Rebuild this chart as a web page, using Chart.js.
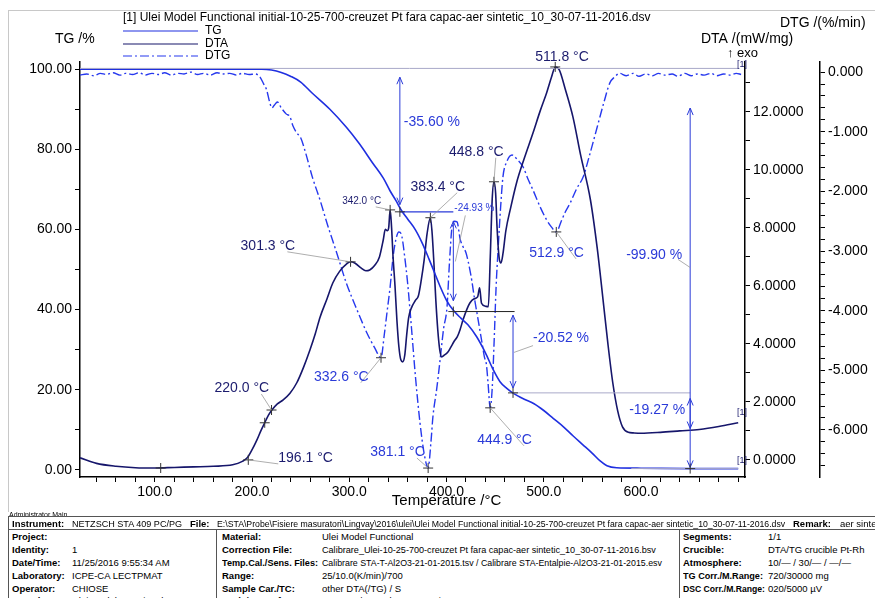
<!DOCTYPE html>
<html lang="en">
<head>
<meta charset="UTF-8">
<title>STA Ulei Model Functional</title>
<script src="https://cdn.jsdelivr.net/npm/chart.js"></script>
<style>
    body { margin: 0; background: #ffffff; font-family: Arial, "Liberation Sans", sans-serif; }
    #wrap { position: relative; width: 875px; height: 598px; overflow: hidden; }
    #chart { position: absolute; left: 0; top: 0; }
    .t { position: absolute; font-size: 9.5px; color: #000; white-space: nowrap; line-height: 12px; transform-origin: left center; }
    .b { font-weight: bold; }
    .hl { position: absolute; height: 0; border-top: 1px solid #555; }
    .vl { position: absolute; width: 0; border-left: 1px solid #555; }
</style>
</head>
<body>
<div id="wrap">
    <canvas id="chart" width="875" height="512"></canvas>
    <div id="info"></div>
</div>
<script>
// TG curve (mass %)
const tgTemps = [23, 100, 150, 210, 220, 230, 240, 250, 262, 280, 297, 310, 324, 335, 342, 348, 354, 360, 368, 375, 382, 388, 393, 400, 407, 415, 422, 431, 440, 448, 455, 462, 468, 480, 490, 500, 510, 520, 530, 540, 550, 558, 565, 575, 600, 650, 700];
const tgValues = [100, 100, 100, 100, 99.8, 99.2, 98.2, 96.8, 94.0, 90.0, 85.5, 81.5, 76.6, 72.8, 69.6, 67.2, 64.6, 62.6, 59.9, 56.6, 52.6, 49.0, 46.0, 42.3, 39.8, 37.8, 36.2, 33.2, 29.2, 25.0, 22.0, 20.3, 19.2, 17.6, 16.5, 14.8, 12.8, 10.8, 8.5, 6.3, 4.1, 2.2, 1.0, 0.5, 0.4, 0.3, 0.3];

// DTA curve (mW/mg)
const dtaTemps = [23, 40, 60, 80, 100, 120, 140, 160, 180, 190, 195, 200, 205, 209, 213, 217, 220.4, 226, 232, 239, 246, 253, 259.5, 265, 270, 277, 283, 290, 297, 301.3, 306, 312, 317, 321, 326, 331, 335, 337, 339, 340.5, 342, 343.5, 345, 347, 349, 351, 353, 355, 357, 359, 361, 364, 368, 371, 374, 377, 380, 383.4, 385, 387, 389, 391, 393, 395, 398, 401, 404, 408, 411, 414, 417, 421, 424, 428, 432, 434, 436, 440, 443, 445, 447, 448.8, 450.5, 452, 454, 456, 458, 461, 466, 472, 480, 489, 496, 503, 508, 511.8, 516, 522, 530, 538, 548, 555, 561, 566, 571, 576, 581, 587, 592, 600, 620, 640, 660, 680, 700];
const dtaValues = [0.07, -0.12, -0.22, -0.27, -0.28, -0.26, -0.24, -0.22, -0.17, -0.05, 0.07, 0.35, 0.69, 1.0, 1.28, 1.55, 1.72, 1.93, 2.07, 2.3, 2.66, 3.2, 3.79, 4.35, 4.93, 5.55, 6.1, 6.5, 6.75, 6.83, 6.78, 6.62, 6.52, 6.55, 6.7, 7.0, 7.6, 7.95, 7.9, 8.0, 8.62, 8.0, 7.0, 6.0, 4.8, 3.9, 3.45, 3.38, 3.6, 4.3, 4.9, 5.25, 5.5, 5.65, 6.2, 6.9, 7.8, 8.35, 7.9, 6.8, 5.5, 4.48, 3.8, 3.55, 3.62, 3.7, 3.86, 4.1, 4.24, 4.5, 4.83, 5.2, 5.41, 5.55, 5.62, 5.93, 5.4, 5.3, 5.28, 7.0, 9.0, 9.59, 9.2, 8.0, 7.0, 6.79, 7.1, 7.9, 8.7, 9.55, 10.4, 11.28, 12.0, 12.66, 13.2, 13.55, 13.45, 12.8, 11.83, 10.5, 8.97, 7.3, 5.52, 4.0, 2.66, 1.7, 1.14, 0.95, 0.93, 0.92, 0.95, 1.0, 1.05, 1.15, 1.28];

// DTG curve (%/min)
const dtgTemps = [23, 30, 37, 44, 50, 57, 64, 70, 77, 84, 90, 97, 104, 110, 117, 124, 130, 137, 144, 150, 157, 164, 170, 177, 184, 190, 197, 203, 208, 212, 215, 218, 220.4, 223, 226, 230, 235, 239, 242, 246, 250, 255, 262, 270, 277, 287, 297, 308, 318, 326, 332.6, 336, 339, 342, 345, 348, 351, 354, 357, 360, 364, 368, 372.7, 377, 381.1, 384, 386, 390, 393, 397, 400.5, 403, 405.6, 408, 410.8, 414, 417, 420, 425, 429, 433, 436.5, 439, 441, 442.7, 444.9, 447, 449, 451, 453, 455.5, 458, 462, 467.4, 473, 478.7, 484, 489, 496, 503, 508, 512.9, 518, 522, 527, 534, 540.5, 547, 555, 562, 568, 573, 578, 585, 592, 598, 605, 612, 618, 625, 632, 638, 645, 652, 658, 665, 672, 678, 685, 692, 698, 703];
const dtgValues = [-0.05, -0.03, -0.06, -0.02, -0.04, -0.01, -0.05, -0.02, -0.04, -0.01, -0.05, -0.02, -0.04, -0.01, -0.05, -0.02, -0.03, 0.0, -0.04, -0.02, -0.05, -0.01, -0.03, -0.02, -0.05, -0.02, -0.04, -0.03, -0.08, -0.2, -0.3, -0.5, -0.6, -0.55, -0.5, -0.6, -0.7, -0.75, -0.9, -1.02, -1.1, -1.35, -1.76, -2.15, -2.53, -3.03, -3.54, -3.99, -4.37, -4.62, -4.79, -4.4, -4.0, -3.6, -3.1, -2.8, -2.68, -2.75, -3.1, -3.54, -4.3, -5.1, -5.88, -6.4, -6.64, -6.2, -5.78, -5.3, -4.88, -4.3, -3.94, -3.2, -2.6, -2.5, -2.51, -2.8, -2.93, -3.03, -3.4, -3.82, -4.2, -4.54, -4.78, -4.9, -5.21, -5.63, -5.3, -4.5, -3.6, -2.98, -2.3, -1.76, -1.5, -1.39, -1.47, -1.59, -1.8, -1.98, -2.25, -2.48, -2.6, -2.68, -2.5, -2.35, -2.2, -1.95, -1.76, -1.4, -0.92, -0.5, -0.18, -0.08, -0.02, -0.06, -0.02, -0.07, -0.03, -0.06, -0.02, -0.05, -0.03, -0.07, -0.02, -0.06, -0.03, -0.05, -0.02, -0.06, -0.03, -0.05, -0.02, -0.04];

// axis tick labels
const xTickLabels = [100, 200, 300, 400, 500, 600];
const tgTickLabels = [0, 20, 40, 60, 80, 100];
const dtaTickLabels = [0, 2, 4, 6, 8, 10, 12];
const dtgTickLabels = [0, -1, -2, -3, -4, -5, -6];

const TG_COLOR = '#1f2fe0';
const DTA_COLOR = '#16166b';
const DTG_COLOR = '#2638ee';
const NOTE_BLUE = '#2a3ad8';
const NOTE_NAVY = '#1c1c6e';

function pts(xs, ys) {
    return xs.map((x, i) => ({ x: x, y: ys[i] }));
}

// peak / step annotations, anchored on data values
const peakNotes = [
    { t: 511.8, v: 13.55, axis: 'yDta', text: '511.8 °C', color: NOTE_NAVY, size: 14, tx: -20, ty: -10, lead: false },
    { t: 448.8, v: 9.59, axis: 'yDta', text: '448.8 °C', color: NOTE_NAVY, size: 14, tx: -45, ty: -30, lead: true },
    { t: 383.4, v: 8.35, axis: 'yDta', text: '383.4 °C', color: NOTE_NAVY, size: 14, tx: -20, ty: -31, lead: true },
    { t: 342.0, v: 8.62, axis: 'yDta', text: '342.0 °C', color: NOTE_NAVY, size: 10, tx: -48, ty: -9, lead: true },
    { t: 301.3, v: 6.83, axis: 'yDta', text: '301.3 °C', color: NOTE_NAVY, size: 14, tx: -110, ty: -16, lead: true },
    { t: 220.0, v: 1.72, axis: 'yDta', text: '220.0 °C', color: NOTE_NAVY, size: 14, tx: -57, ty: -22, lead: true },
    { t: 196.1, v: 0.0, axis: 'yDta', text: '196.1 °C', color: NOTE_NAVY, size: 14, tx: 30, ty: -2, lead: true },
    { t: 332.6, v: -4.79, axis: 'yDtg', text: '332.6 °C', color: NOTE_BLUE, size: 14, tx: -67, ty: 19, lead: true },
    { t: 381.1, v: -6.64, axis: 'yDtg', text: '381.1 °C', color: NOTE_BLUE, size: 14, tx: -58, ty: -16, lead: true },
    { t: 444.9, v: -5.63, axis: 'yDtg', text: '444.9 °C', color: NOTE_BLUE, size: 14, tx: -13, ty: 32, lead: true },
    { t: 512.9, v: -2.68, axis: 'yDtg', text: '512.9 °C', color: NOTE_BLUE, size: 14, tx: -27, ty: 21, lead: true }
];

// TG step arrows: [temp, tg from, tg to]
const stepArrows = [
    [352, 98.0, 66.2],
    [407, 62.0, 42.2],
    [468.4, 38.6, 20.4],
    [650.6, 90.3, 0.6],
    [650.6, 17.8, 10.3]
];

const notesPlugin = {
    id: 'notes',
    beforeDraw(chart) {
        const c = chart.ctx;
        c.save();
        c.strokeStyle = '#c8c8c8';
        c.lineWidth = 1;
        c.strokeRect(8.5, 10.5, 880, 520);
        c.restore();
    },
    afterDatasetsDraw(chart) {
        const c = chart.ctx;
        const sx = chart.scales.x, sy = chart.scales.y, sa = chart.scales.yDta, sg = chart.scales.yDtg;
        const X = t => sx.getPixelForValue(t);
        const TG = v => sy.getPixelForValue(v);
        const ax = { y: sy, yDta: sa, yDtg: sg };

        function line(x1, y1, x2, y2, col, w) {
            c.strokeStyle = col; c.lineWidth = w || 1;
            c.beginPath(); c.moveTo(x1, y1); c.lineTo(x2, y2); c.stroke();
        }
        function cross(x, y) {
            line(x - 5, y, x + 5, y, '#333', 1);
            line(x, y - 5, x, y + 5, '#333', 1);
        }
        function head(x, y, dir, col) {
            c.strokeStyle = col; c.lineWidth = 1;
            c.beginPath(); c.moveTo(x - 3, y - 7 * dir); c.lineTo(x, y); c.lineTo(x + 3, y - 7 * dir); c.stroke();
        }
        function text(s, x, y, col, size) {
            c.fillStyle = col;
            c.font = size + 'px Arial, "Liberation Sans", sans-serif';
            c.textBaseline = 'middle';
            c.textAlign = 'left';
            c.fillText(s, x, y);
        }

        c.save();
        // reference lines of the TG evaluation
        line(sx.left, TG(100.2), sx.right - 6, TG(100.2), '#a9a9c9', 1);
        line(X(352), TG(64.4), X(407), TG(64.4), NOTE_BLUE, 1.2);
        line(X(407), TG(39.5), X(470), TG(39.5), '#222', 1);
        line(X(468.4), TG(19.2), X(650.6), TG(19.2), '#a9a9c9', 1);
        line(X(590), TG(0.3), X(700), TG(0.3), '#a9a9c9', 1);

        stepArrows.forEach(a => {
            const x = X(a[0]), y1 = TG(a[1]), y2 = TG(a[2]);
            line(x, y1, x, y2, NOTE_BLUE, 1);
            head(x, y1, -1, NOTE_BLUE);
            head(x, y2, 1, NOTE_BLUE);
        });

        text('-35.60 %', X(352) + 4, TG(86.9), NOTE_BLUE, 14);
        text('-24.93 %', X(407) + 1, TG(65.3), NOTE_BLUE, 10);
        line(X(407) + 12, TG(63.5), X(407) + 2, TG(52), '#999', 0.8);
        text('-20.52 %', X(468.4) + 20, TG(32.8), NOTE_BLUE, 14);
        line(X(468.4) + 20, TG(31), X(468.4) + 1, TG(29.3), '#999', 0.8);
        text('-99.90 %', X(650.6) - 64, TG(53.5), NOTE_BLUE, 14);
        line(X(650.6) - 12, TG(52.5), X(650.6), TG(50.5), '#999', 0.8);
        text('-19.27 %', X(650.6) - 61, TG(14.9), NOTE_BLUE, 14);

        cross(X(352), TG(64.4));
        cross(X(407), TG(39.5));
        cross(X(468.4), TG(19.2));
        cross(X(650.6), TG(0.3));
        cross(X(106), sa.getPixelForValue(-0.28));
        cross(X(213), sa.getPixelForValue(1.28));

        peakNotes.forEach(n => {
            const px = X(n.t), py = ax[n.axis].getPixelForValue(n.v);
            cross(px, py);
            const w = (n.size === 10 ? 5.6 : 7.8) * n.text.length;
            const lx = px + n.tx, ly = py + n.ty;
            if (n.lead) {
                const ex = n.tx < 0 ? lx + w * 0.75 : lx;
                line(ex, ly + 6, px, py, '#999', 0.8);
            }
            text(n.text, lx, ly, n.color, n.size);
        });

        text('[1]', sx.right - 8, sg.getPixelForValue(0.13), NOTE_NAVY, 9);
        text('[1]', sx.right - 8, sa.getPixelForValue(1.65), NOTE_NAVY, 9);
        text('[1]', sx.right - 8, TG(2.4), NOTE_NAVY, 9);

        // title, legend and axis captions
        text('[1] Ulei Model Functional initial-10-25-700-creuzet Pt fara capac-aer sintetic_10_30-07-11-2016.dsv', 123, 18, '#000', 12);
        line(123, 31, 198, 31, TG_COLOR, 1.2);
        line(123, 44, 198, 44, DTA_COLOR, 1.2);
        c.setLineDash([9, 3, 2, 3]);
        line(123, 56, 198, 56, DTG_COLOR, 1.2);
        c.setLineDash([]);
        text('TG', 205, 31, '#000', 12);
        text('DTA', 205, 44, '#000', 12);
        text('DTG', 205, 56, '#000', 12);
        text('TG /%', 55, 39, '#000', 14);
        text('DTG /(%/min)', 780, 23, '#000', 14);
        text('DTA /(mW/mg)', 701, 39, '#000', 14);
        text('↑ exo', 727, 53, '#000', 13);
        c.textAlign = 'center';
        c.font = '15px Arial, "Liberation Sans", sans-serif';
        c.fillStyle = '#000';
        c.fillText('Temperature /°C', X(400), 501);
        c.restore();
    }
};

function onlyLabels(list, digits) {
    return function (v) {
        return list.some(l => Math.abs(l - v) < 1e-6) ? Number(v).toFixed(digits) : '';
    };
}

const tickFont = { family: 'Arial, "Liberation Sans", sans-serif', size: 14 };

new Chart(document.getElementById('chart'), {
    type: 'line',
    data: {
        datasets: [
            { label: 'TG', data: pts(tgTemps, tgValues), yAxisID: 'y', borderColor: TG_COLOR, borderWidth: 1.6, cubicInterpolationMode: 'monotone' },
            { label: 'DTA', data: pts(dtaTemps, dtaValues), yAxisID: 'yDta', borderColor: DTA_COLOR, borderWidth: 1.6, cubicInterpolationMode: 'monotone' },
            { label: 'DTG', data: pts(dtgTemps, dtgValues), yAxisID: 'yDtg', borderColor: DTG_COLOR, borderWidth: 1.4, borderDash: [9, 3, 2, 3], cubicInterpolationMode: 'monotone' }
        ]
    },
    options: {
        responsive: false,
        animation: false,
        devicePixelRatio: 1,
        layout: { padding: { top: 62, left: 0, right: 0, bottom: 0 } },
        elements: { point: { radius: 0 } },
        plugins: { legend: { display: false }, tooltip: { enabled: false } },
        scales: {
            x: {
                type: 'linear', position: 'bottom', min: 23, max: 707,
                ticks: { stepSize: 20, includeBounds: false, autoSkip: false, maxRotation: 0, color: '#000', font: tickFont, padding: 2, callback: onlyLabels(xTickLabels, 1) },
                grid: { drawOnChartArea: false, tickLength: 5, color: '#000' },
                border: { color: '#000', width: 1.5 },
                afterFit(s) { s.height = 35; }
            },
            y: {
                position: 'left', min: -1.8, max: 101.8,
                ticks: { stepSize: 10, includeBounds: false, autoSkip: false, color: '#000', font: tickFont, padding: 3, callback: onlyLabels(tgTickLabels, 2) },
                grid: { drawOnChartArea: false, tickLength: 5, color: '#000' },
                border: { color: '#000', width: 1.5 },
                afterFit(s) { s.width = 80; }
            },
            yDta: {
                position: 'right', min: -0.59, max: 13.72,
                ticks: { stepSize: 1, includeBounds: false, autoSkip: false, color: '#000', font: tickFont, padding: 3, callback: onlyLabels(dtaTickLabels, 4) },
                grid: { drawOnChartArea: false, tickLength: 5, color: '#000' },
                border: { color: '#000', width: 1.5 },
                afterFit(s) { s.width = 75; }
            },
            yDtg: {
                position: 'right', min: -6.79, max: 0.17,
                ticks: { stepSize: 0.2, includeBounds: false, autoSkip: false, color: '#000', font: tickFont, padding: 3, callback: onlyLabels(dtgTickLabels, 3) },
                grid: { drawOnChartArea: false, tickLength: 5, color: '#000' },
                border: { color: '#000', width: 1.5 },
                afterFit(s) { s.width = 55; }
            }
        }
    },
    plugins: [notesPlugin]
});

// measurement info block under the chart: [x, y, text, bold, fit width]
const infoText = [
    [12, 518, 'Instrument:', true], [72, 518, 'NETZSCH STA 409 PC/PG', false, 110], [190, 518, 'File:', true],
    [217, 518, 'E:\\STA\\Probe\\Fisiere masuratori\\Lingvay\\2016\\ulei\\Ulei Model Functional initial-10-25-700-creuzet Pt fara capac-aer sintetic_10_30-07-11-2016.dsv', false, 568],
    [793, 518, 'Remark:', true], [840, 518, 'aer sintetic', false],
    [12, 531, 'Project:', true],
    [12, 544, 'Identity:', true], [72, 544, '1', false],
    [12, 557, 'Date/Time:', true], [72, 557, '11/25/2016 9:55:34 AM', false],
    [12, 570, 'Laboratory:', true], [72, 570, 'ICPE-CA LECTPMAT', false],
    [12, 583, 'Operator:', true], [72, 583, 'CHIOSE', false],
    [12, 595, 'Sample:', true], [72, 595, 'Ulei Model Functional, 16.980 mg', false],
    [222, 531, 'Material:', true], [322, 531, 'Ulei Model Functional', false],
    [222, 544, 'Correction File:', true], [322, 544, 'Calibrare_Ulei-10-25-700-creuzet Pt fara capac-aer sintetic_10_30-07-11-2016.bsv', false, 334],
    [222, 557, 'Temp.Cal./Sens. Files:', true, 96], [322, 557, 'Calibrare STA-T-Al2O3-21-01-2015.tsv / Calibrare STA-Entalpie-Al2O3-21-01-2015.esv', false, 340],
    [222, 570, 'Range:', true], [322, 570, '25/10.0(K/min)/700', false],
    [222, 583, 'Sample Car./TC:', true], [322, 583, 'other DTA(/TG) / S', false],
    [222, 595, 'Mode/Type of Meas.:', true, 90], [322, 595, 'DTA-TG / Sample + Correction', false],
    [683, 531, 'Segments:', true], [768, 531, '1/1', false],
    [683, 544, 'Crucible:', true], [768, 544, 'DTA/TG crucible Pt-Rh', false],
    [683, 557, 'Atmosphere:', true], [768, 557, '10/— / 30/— / —/—', false],
    [683, 570, 'TG Corr./M.Range:', true, 80], [768, 570, '720/30000 mg', false],
    [683, 583, 'DSC Corr./M.Range:', true, 82], [768, 583, '020/5000 µV', false]
];
const info = document.getElementById('info');
const admin = document.createElement('div');
admin.className = 't';
admin.style.cssText = 'left:9px;top:509px;font-size:7px;';
admin.textContent = 'Administrator   Main';
info.appendChild(admin);
infoText.forEach(r => {
    const d = document.createElement('div');
    d.className = 't' + (r[3] ? ' b' : '');
    d.style.left = r[0] + 'px';
    d.style.top = r[1] + 'px';
    d.textContent = r[2];
    info.appendChild(d);
    if (r[4]) {
        const w = d.getBoundingClientRect().width;
        if (w > r[4]) d.style.transform = 'scaleX(' + (r[4] / w).toFixed(3) + ')';
    }
});
[[8, 516, 880], [8, 529, 880]].forEach(h => {
    const d = document.createElement('div');
    d.className = 'hl';
    d.style.left = h[0] + 'px'; d.style.top = h[1] + 'px'; d.style.width = h[2] + 'px';
    info.appendChild(d);
});
[[8, 516, 90], [216, 529, 80], [679, 529, 80]].forEach(v => {
    const d = document.createElement('div');
    d.className = 'vl';
    d.style.left = v[0] + 'px'; d.style.top = v[1] + 'px'; d.style.height = v[2] + 'px';
    info.appendChild(d);
});
</script>
</body>
</html>
